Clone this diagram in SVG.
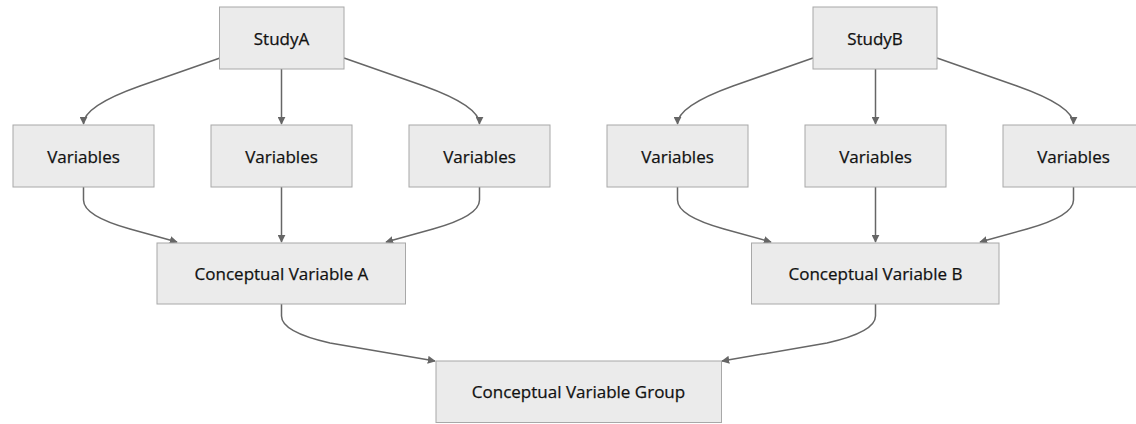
<svg xmlns="http://www.w3.org/2000/svg" width="1136" height="424" viewBox="0 0 1136 424">
<defs>
<style>
.node rect{fill:#ebebeb;stroke:#a8a8a8;stroke-width:1}
.node text{font-family:"Open Sans","Noto Sans",sans-serif;font-size:17px;font-weight:400;fill:#111;stroke:#111;stroke-width:0.25;text-anchor:middle;dominant-baseline:central}
.edge{fill:none;stroke:#666;stroke-width:1.5}
</style>
<marker id="arr" viewBox="0 0 10 10" refX="9" refY="5" markerWidth="8" markerHeight="8" markerUnits="userSpaceOnUse" orient="auto">
<path d="M0,0 L10,5 L0,10 z" fill="#666"/>
</marker>
</defs>
<rect width="1136" height="424" fill="#fff"/>
<g id="edges">
<path class="edge" marker-end="url(#arr)" d="M220,58 L140,86 Q83.5,106 83.5,124"/>
<path class="edge" marker-end="url(#arr)" d="M281.5,69 L281.5,124"/>
<path class="edge" marker-end="url(#arr)" d="M344,58 L424,86 Q479.5,106 479.5,124"/>
<path class="edge" marker-end="url(#arr)" d="M813,58 L733,86 Q677.5,106 677.5,124"/>
<path class="edge" marker-end="url(#arr)" d="M875.5,69 L875.5,124"/>
<path class="edge" marker-end="url(#arr)" d="M937,58 L1017,86 Q1073.5,106 1073.5,124"/>
<path class="edge" marker-end="url(#arr)" d="M83.5,187 L83.5,200 Q83.5,216 130,229 L177,242"/>
<path class="edge" marker-end="url(#arr)" d="M281.5,187 L281.5,242"/>
<path class="edge" marker-end="url(#arr)" d="M479.5,187 L479.5,200 Q479.5,216 433,229 L386,242"/>
<path class="edge" marker-end="url(#arr)" d="M677.5,187 L677.5,200 Q677.5,216 724,229 L771,242"/>
<path class="edge" marker-end="url(#arr)" d="M875.5,187 L875.5,242"/>
<path class="edge" marker-end="url(#arr)" d="M1073.5,187 L1073.5,200 Q1073.5,216 1027,229 L980,242"/>
<path class="edge" marker-end="url(#arr)" d="M281.5,304 L281.5,316 Q281.5,332 330,343 L435,361"/>
<path class="edge" marker-end="url(#arr)" d="M875.5,304 L875.5,316 Q875.5,332 827,343 L722,361"/>
</g>
<g id="studyA" class="node"><rect x="219.5" y="7" width="124.5" height="62"/><text x="281.5" y="38">StudyA</text></g>
<g id="studyB" class="node"><rect x="813" y="7" width="124" height="62"/><text x="875" y="38">StudyB</text></g>
<g id="varA1" class="node"><rect x="13" y="125" width="141" height="62"/><text x="83.5" y="156">Variables</text></g>
<g id="varA2" class="node"><rect x="211" y="125" width="141" height="62"/><text x="281.5" y="156">Variables</text></g>
<g id="varA3" class="node"><rect x="409" y="125" width="141" height="62"/><text x="479.5" y="156">Variables</text></g>
<g id="varB1" class="node"><rect x="607" y="125" width="141" height="62"/><text x="677.5" y="156">Variables</text></g>
<g id="varB2" class="node"><rect x="805" y="125" width="141" height="62"/><text x="875.5" y="156">Variables</text></g>
<g id="varB3" class="node"><rect x="1003" y="125" width="141" height="62"/><text x="1073.5" y="156">Variables</text></g>
<g id="cvA" class="node"><rect x="157" y="243" width="248.5" height="61"/><text x="281.5" y="273.5">Conceptual Variable A</text></g>
<g id="cvB" class="node"><rect x="751.5" y="243" width="247.5" height="61"/><text x="875.5" y="273.5">Conceptual Variable B</text></g>
<g id="cvGroup" class="node"><rect x="436" y="361" width="285.5" height="61.5"/><text x="578.5" y="391.5">Conceptual Variable Group</text></g>
</svg>
